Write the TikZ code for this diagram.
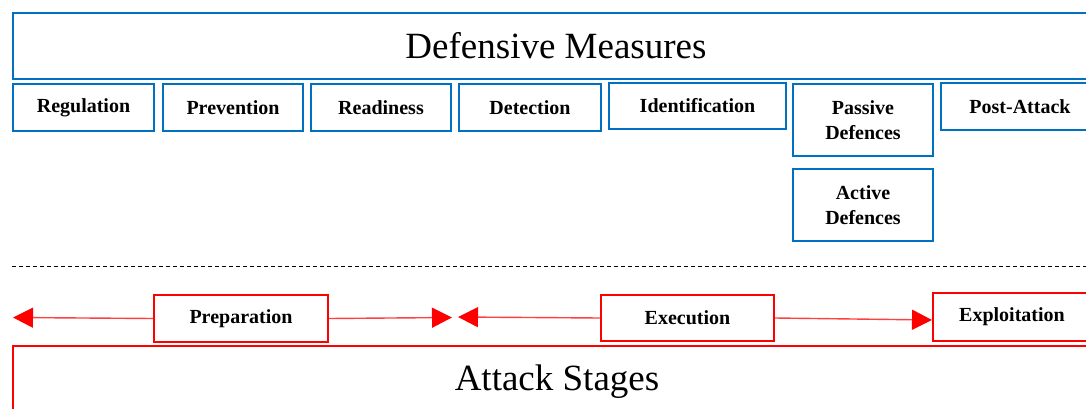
\documentclass[tikz,border=0pt]{standalone}
\usepackage{fontspec}
\setmainfont{Liberation Serif}
\usetikzlibrary{arrows.meta}
\definecolor{defblue}{HTML}{0070C0}
\definecolor{atkred}{HTML}{FF0000}
\begin{document}
\begin{tikzpicture}[x=1pt,y=-1pt,
  defbox/.style={draw=defblue, line width=2pt, rectangle, inner sep=0pt, anchor=north west,
    align=center, font=\bfseries\fontsize{20}{25.5}\selectfont},
  atkbox/.style={draw=atkred, line width=2pt, rectangle, inner sep=0pt, anchor=north west,
    align=center, font=\bfseries\fontsize{20}{25.5}\selectfont},
  flow/.style={draw=atkred!75, line width=1.4pt,
    -{Triangle[length=20pt,width=20pt,color=atkred]}}]
\useasboundingbox (0,0) rectangle (1086,409);
\clip (0,0) rectangle (1086,409);

% defensive measures
\node[defbox, font=\fontsize{37}{40}\selectfont, minimum width=1086, minimum height=66] (dm) at (12,12) {Defensive Measures};
\node[defbox, minimum width=141, minimum height=47] (reg) at (12,83) {Regulation};
\node[defbox, minimum width=140, minimum height=47] (prev) at (162,83) {Prevention};
\node[defbox, minimum width=140, minimum height=47] (ready) at (310,83) {Readiness};
\node[defbox, minimum width=142, minimum height=47] (det) at (458,83) {Detection};
\node[defbox, minimum width=177, minimum height=46] (ident) at (608,82) {Identification};
\node[defbox, minimum width=140, minimum height=72] (pass) at (792,83) {Passive\\Defences};
\node[defbox, minimum width=140, minimum height=72] (act) at (792,168) {Active\\Defences};
\node[defbox, minimum width=158, minimum height=47] (post) at (940,82) {Post-Attack};

% separator
\coordinate (sepL) at (12,266);
\coordinate (sepR) at (1086,266);
\draw[black, line width=0.8pt, dash pattern=on 4pt off 3pt] (sepL) -- (sepR);

% attack stages
\node[atkbox, minimum width=174, minimum height=47] (prep) at (153,294) {Preparation};
\node[atkbox, minimum width=173, minimum height=46] (exec) at (600,294) {Execution};
\node[atkbox, minimum width=158, minimum height=48] (expl) at (932,292) {Exploitation};
\node[atkbox, font=\fontsize{37}{40}\selectfont, minimum width=1088, minimum height=72] (as) at (12,345) {Attack Stages};

\coordinate (prepL) at (13,317.5);
\coordinate (prepR) at (452,317.5);
\coordinate (execL) at (458,317);
\coordinate (explIn) at ([yshift=-3pt]expl.west);

\draw[flow] (prep.west) -- (prepL);
\draw[flow] (prep.east) -- (prepR);
\draw[flow] (exec.west) -- (execL);
\draw[flow] (exec.east) -- (explIn);
\end{tikzpicture}
\end{document}
